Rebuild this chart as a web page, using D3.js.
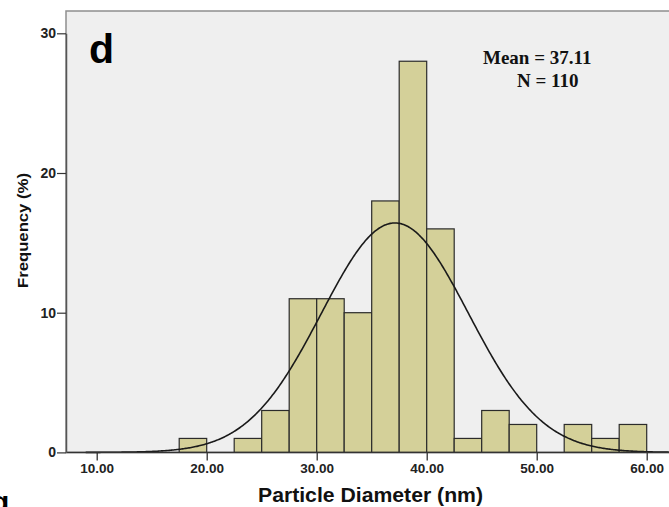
<!DOCTYPE html>
<html><head><meta charset="utf-8">
<script src="https://cdn.jsdelivr.net/npm/d3@7"></script>
<style>body{margin:0;background:#fff;}svg{display:block;}</style>
</head><body>
<script>
const binStarts = [17.5,20,22.5,25,27.5,30,32.5,35,37.5,40,42.5,45,47.5,50,52.5,55,57.5];
const counts    = [1,0,1,3,11,11,10,18,28,16,1,3,2,0,2,1,2];
const binWidth = 2.5;
const xTicks = [10,20,30,40,50,60];
const yTicks = [0,10,20,30];
const meanVal = 37.11;
const sdVal = 6.68;
const nVal = 110;

const W = 669, H = 507;
const svg = d3.select("body").append("svg").attr("width", W).attr("height", H);
const sans = "Arial, 'Liberation Sans', sans-serif";
const serif = "'Liberation Serif', 'Times New Roman', serif";

const pLeft = 66, pTop = 11, pRight = 672, pBottom = 452.4;
const x = d3.scaleLinear().domain([10, 60]).range([96.7, 646.7]);
const y = d3.scaleLinear().domain([0, 30]).range([pBottom, 33.3]);

// plot background
svg.append("rect").attr("x", pLeft).attr("y", pTop).attr("width", pRight-pLeft).attr("height", pBottom-pTop)
  .attr("fill", "#efefef").attr("stroke", "#8f8f8f").attr("stroke-width", 1.5);

// bars
const bins = binStarts.map((s,i) => ({s, c: counts[i]})).filter(d => d.c > 0);
svg.append("g").selectAll("rect").data(bins).join("rect")
  .attr("x", d => x(d.s)).attr("width", d => x(d.s+binWidth) - x(d.s))
  .attr("y", d => y(d.c))
  .attr("height", d => pBottom - y(d.c))
  .attr("fill", "#d4d099").attr("stroke", "#2b2b2b").attr("stroke-width", 1.2);

// fitted normal curve
const pts = d3.range(9, 67.01, 0.1).map(v => [v, nVal*binWidth/(sdVal*Math.sqrt(2*Math.PI))*Math.exp(-0.5*((v-meanVal)/sdVal)**2)]);
svg.append("path").datum(pts)
  .attr("d", d3.line().x(d => x(d[0])).y(d => y(d[1])))
  .attr("fill", "none").attr("stroke", "#1a1a1a").attr("stroke-width", 1.6);

// axes
const xAxis = d3.axisBottom(x).tickValues(xTicks).tickFormat(d3.format(".2f")).tickSize(8).tickPadding(3).tickSizeOuter(0);
const gx = svg.append("g").attr("transform", `translate(0,${pBottom})`).call(xAxis);
gx.select(".domain").remove();
gx.selectAll("line").attr("stroke", "#222").attr("stroke-width", 1.2);
gx.selectAll("text").attr("font-family", sans).attr("font-weight", "bold")
  .attr("font-size", 13.5).attr("fill", "#222");
svg.append("line").attr("x1", pLeft).attr("x2", W).attr("y1", pBottom).attr("y2", pBottom)
  .attr("stroke", "#333").attr("stroke-width", 1.5);

const yAxis = d3.axisLeft(y).tickValues(yTicks).tickSize(9).tickPadding(1).tickSizeOuter(0);
const gy = svg.append("g").attr("transform", `translate(${pLeft},0)`).call(yAxis);
gy.select(".domain").attr("stroke", "#555").attr("stroke-width", 1.5);
gy.selectAll("line").attr("stroke", "#333").attr("stroke-width", 1.2);
gy.selectAll("text").attr("font-family", sans).attr("font-weight", "bold")
  .attr("font-size", 14).attr("fill", "#222");

// titles
svg.append("text").attr("x", 258).attr("y", 502)
  .attr("textLength", 225).attr("lengthAdjust", "spacingAndGlyphs")
  .attr("font-family", sans).attr("font-weight", "bold").attr("font-size", 20)
  .attr("fill", "#111").text("Particle Diameter (nm)");
svg.append("text").attr("transform", "translate(27.5,288) rotate(-90)")
  .attr("textLength", 115).attr("lengthAdjust", "spacingAndGlyphs")
  .attr("font-family", sans).attr("font-weight", "bold").attr("font-size", 15)
  .attr("fill", "#111").text("Frequency (%)");

svg.append("text").attr("x", 89).attr("y", 63)
  .attr("font-family", sans).attr("font-weight", "bold").attr("font-size", 41)
  .attr("fill", "#000").text("d");

svg.append("text").attr("x", 483).attr("y", 64)
  .attr("font-family", serif).attr("font-weight", "bold").attr("font-size", 19)
  .attr("fill", "#111").text(`Mean = ${meanVal.toFixed(2)}`);
svg.append("text").attr("x", 517).attr("y", 87)
  .attr("font-family", serif).attr("font-weight", "bold").attr("font-size", 19)
  .attr("fill", "#111").text(`N = ${nVal}`);

svg.append("text").attr("x", -9).attr("y", 512)
  .attr("font-family", sans).attr("font-weight", "bold").attr("font-size", 30)
  .attr("fill", "#000").text("g");
</script>
</body></html>
